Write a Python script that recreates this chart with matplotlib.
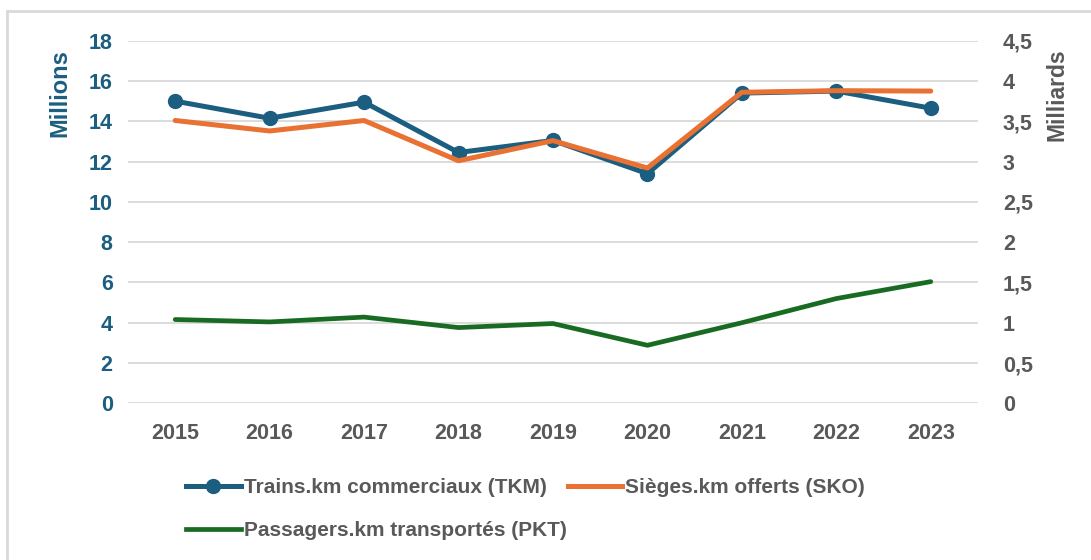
import matplotlib.pyplot as plt
from matplotlib.lines import Line2D
from matplotlib import font_manager

years = ["2015", "2016", "2017", "2018", "2019", "2020", "2021", "2022", "2023"]
# Trains.km commerciaux, en millions (axe de gauche)
tkm = [15.0, 14.15, 14.95, 12.45, 13.05, 11.4, 15.4, 15.5, 14.65]
# Sièges.km offerts, en milliards (axe de droite)
sko = [3.51, 3.38, 3.51, 3.01, 3.26, 2.92, 3.86, 3.88, 3.875]
# Passagers.km transportés, en milliards (axe de droite)
pkt = [1.04, 1.01, 1.07, 0.94, 0.99, 0.72, 1.0, 1.30, 1.51]

left_ticks = [0, 2, 4, 6, 8, 10, 12, 14, 16, 18]
right_ticks = [0, 0.5, 1, 1.5, 2, 2.5, 3, 3.5, 4, 4.5]
right_labels = ["0", "0,5", "1", "1,5", "2", "2,5", "3", "3,5", "4", "4,5"]

blue = "#1B5E80"
orange = "#E97132"
green = "#196B24"
grey = "#595959"
grid = "#D9D9D9"

names = {f.name for f in font_manager.fontManager.ttflist}
narrow = "Liberation Sans Narrow" if "Liberation Sans Narrow" in names else "Liberation Sans"
plt.rcParams["font.family"] = ["Liberation Sans", "DejaVu Sans"]

fig = plt.figure(figsize=(10.91, 5.6), dpi=100)
ax = fig.add_axes([0.1173, 0.2798, 0.8964 - 0.1173, 0.9273 - 0.2798])
ax2 = ax.twinx()

x = list(range(len(years)))
ax.plot(x, tkm, color=blue, lw=3.6, marker="o", ms=10, solid_capstyle="round",
        label="Trains.km commerciaux (TKM)", zorder=3)
ax2.plot(x, sko, color=orange, lw=3.6, solid_capstyle="round",
         label="Sièges.km offerts (SKO)")
ax2.plot(x, pkt, color=green, lw=3.4, solid_capstyle="round",
         label="Passagers.km transportés (PKT)")

ax.set_xlim(-0.5, len(years) - 0.5)
ax.set_ylim(0, 18)
ax2.set_ylim(0, 4.5)
ax.set_yticks(left_ticks)
ax.set_yticklabels([str(v) for v in left_ticks])
ax2.set_yticks(right_ticks)
ax2.set_yticklabels(right_labels)
ax.set_xticks(x)
ax.set_xticklabels(years)

for a in (ax, ax2):
    for s in a.spines.values():
        s.set_visible(False)
ax.grid(axis="y", color=grid, lw=1.3)
ax.set_axisbelow(True)

ax.tick_params(axis="y", length=0, pad=11, labelsize=15.5, labelcolor=blue)
ax.tick_params(axis="x", length=0, pad=14, labelsize=15.5, labelcolor=grey)
ax2.tick_params(axis="y", length=0, pad=18, labelsize=15.5, labelcolor=grey)
for lab in ax.get_yticklabels() + ax.get_xticklabels() + ax2.get_yticklabels():
    lab.set_fontweight("bold")

fig.text(60 / 1091, 1 - 93 / 560, "Millions", rotation=90, ha="center", va="center",
         fontsize=17, fontweight="bold", color=blue)
fig.text(1057 / 1091, 1 - 95 / 560, "Milliards", rotation=90, ha="center", va="center",
         fontsize=16.5, fontweight="bold", color=grey)

handles = [
    Line2D([], [], color=blue, lw=3.6, marker="o", ms=10),
    Line2D([], [], color=green, lw=3.4),
    Line2D([], [], color=orange, lw=3.6),
]
labels = ["Trains.km commerciaux (TKM)", "Passagers.km transportés (PKT)",
          "Sièges.km offerts (SKO)"]
leg = fig.legend(handles, labels, ncol=2, loc="upper left",
                 bbox_to_anchor=(178 / 1091, 1 - 470 / 560), frameon=False,
                 prop={"family": narrow, "weight": "bold", "size": 15},
                 handlelength=2.6, handletextpad=0.15, columnspacing=0.05,
                 labelspacing=1.15, borderaxespad=0)
for t in leg.get_texts():
    t.set_color(grey)

# cadre gris du graphique
fig.add_artist(Line2D([7 / 1091, 7 / 1091], [0, 1 - 11 / 560], color=grid, lw=2))
fig.add_artist(Line2D([7 / 1091, 1], [1 - 11 / 560, 1 - 11 / 560], color=grid, lw=2))

fig.savefig("out.png", dpi=100)
